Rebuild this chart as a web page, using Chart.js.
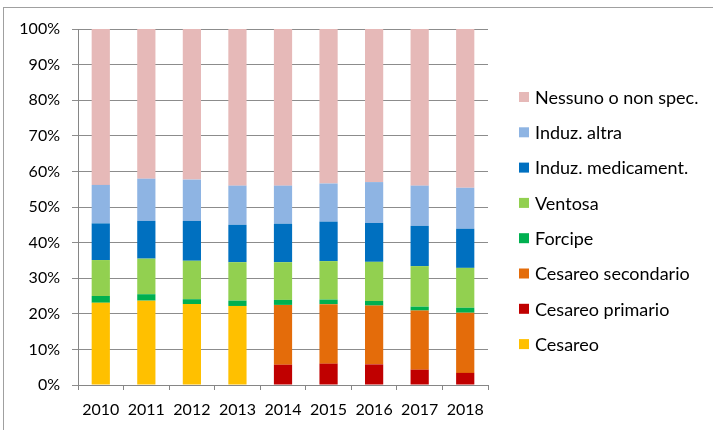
<!DOCTYPE html>
<html>
<head>
<meta charset="utf-8">
<script src="https://cdn.jsdelivr.net/npm/chart.js@4/dist/chart.umd.min.js"></script>
<style>
html,body{margin:0;padding:0;background:#fff;}
#wrap{width:713px;height:430px;position:relative;}
</style>
</head>
<body>
<div id="wrap"><canvas id="c" width="713" height="430"></canvas></div>
<script>
const years = ['2010','2011','2012','2013','2014','2015','2016','2017','2018'];
const yTicks = [0,10,20,30,40,50,60,70,80,90,100];
const cesareo          = [23.1, 23.7, 22.75, 22.2, null, null, null, null, null];
const cesareoPrimario  = [null, null, null, null, 5.7, 6.0, 5.8, 4.3, 3.4];
const cesareoSecond    = [null, null, null, null, 16.8, 16.7, 16.5, 16.6, 16.9];
const forcipe          = [1.9, 1.8, 1.35, 1.5, 1.4, 1.3, 1.3, 1.1, 1.4];
const ventosa          = [10.1, 10.0, 10.8, 10.8, 10.6, 10.8, 11.0, 11.4, 11.2];
const induzMedicament  = [10.3, 10.6, 11.2, 10.5, 10.8, 11.1, 10.9, 11.3, 11.0];
const induzAltra       = [10.8, 11.85, 11.6, 11.0, 10.7, 10.7, 11.5, 11.3, 11.5];
const nessuno          = [43.8, 42.05, 42.3, 44.0, 44.0, 43.4, 43.0, 44.0, 44.6];

const FONT = 'Lato, "Open Sans", sans-serif';
const ds = (label, data, color) => ({label, data, backgroundColor: color, borderWidth: 0,
  categoryPercentage: 1.0, barPercentage: 0.4});

const datasets = [
  ds('Cesareo', cesareo, '#FFC000'),
  ds('Cesareo primario', cesareoPrimario, '#C00000'),
  ds('Cesareo secondario', cesareoSecond, '#E46C0A'),
  ds('Forcipe', forcipe, '#00B050'),
  ds('Ventosa', ventosa, '#92D050'),
  ds('Induz. medicament.', induzMedicament, '#0070C0'),
  ds('Induz. altra', induzAltra, '#8EB4E3'),
  ds('Nessuno o non spec.', nessuno, '#E6B9B8')
];

const framePlugin = {
  id: 'frame',
  beforeDraw(chart) {
    const ctx = chart.ctx;
    ctx.save();
    ctx.fillStyle = '#fff';
    ctx.fillRect(0, 0, chart.width, chart.height);
    ctx.strokeStyle = '#a0a0a0';
    ctx.lineWidth = 1;
    ctx.strokeRect(3.5, 7.5, 800, 500);
    ctx.restore();
  }
};

const legendPlugin = {
  id: 'customLegend',
  afterDraw(chart) {
    const ctx = chart.ctx;
    const items = chart.data.datasets.slice().reverse();
    ctx.save();
    ctx.font = '18px ' + FONT;
    ctx.textBaseline = 'middle';
    ctx.textAlign = 'left';
    items.forEach((d, i) => {
      const cy = 97 + i * 35.3;
      ctx.fillStyle = d.backgroundColor;
      ctx.fillRect(519, cy - 5, 10, 10);
      ctx.fillStyle = '#000';
      ctx.fillText(d.label, 535, cy + 1);
    });
    ctx.restore();
  }
};

new Chart(document.getElementById('c'), {
  type: 'bar',
  data: { labels: years, datasets },
  plugins: [framePlugin, legendPlugin],
  options: {
    responsive: false,
    animation: false,
    devicePixelRatio: 1,
    layout: { padding: { left: 0, top: 29, right: 225, bottom: 0 } },
    plugins: { legend: { display: false }, tooltip: { enabled: false }, title: { display: false } },
    scales: {
      x: {
        stacked: true,
        offset: true,
        afterFit(s) { s.height = 45; },
        grid: { offset: true, drawOnChartArea: false, drawTicks: true, tickLength: 5, color: '#868686' },
        border: { color: '#868686', width: 1 },
        ticks: { color: '#000', font: { family: FONT, size: 16 }, padding: 10, maxRotation: 0, autoSkip: false }
      },
      y: {
        stacked: true,
        min: 0, max: 100,
        afterFit(s) { s.width = 78; },
        afterBuildTicks(s) { s.ticks = yTicks.map(v => ({ value: v })); },
        grid: { color: '#8c8c8c', lineWidth: 1, drawTicks: true, tickLength: 6 },
        border: { color: '#868686', width: 1 },
        ticks: { color: '#000', font: { family: FONT, size: 16 }, padding: 12,
          callback: v => v + '%' }
      }
    }
  }
});
</script>
</body>
</html>
